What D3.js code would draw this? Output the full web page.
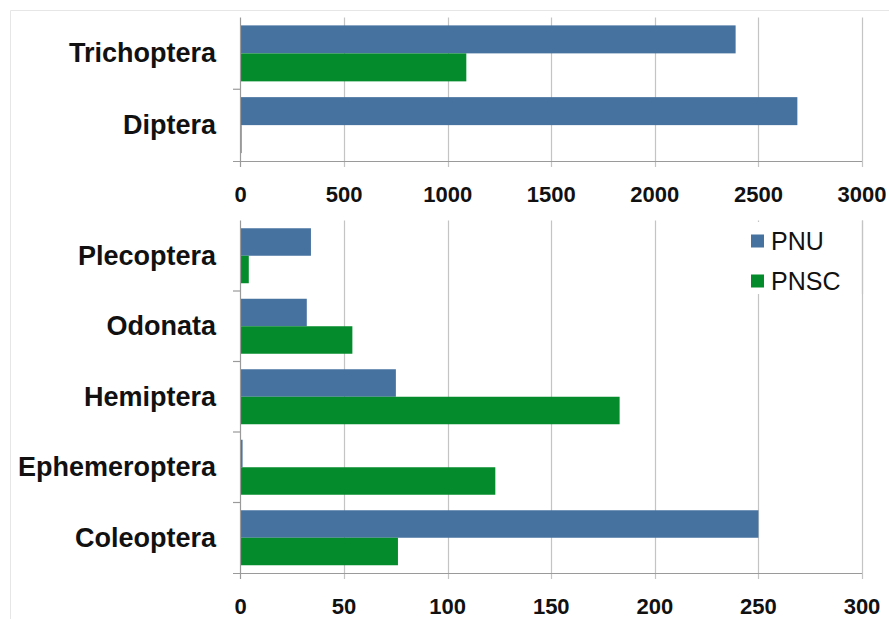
<!DOCTYPE html>
<html><head><meta charset="utf-8">
<script src="https://cdn.jsdelivr.net/npm/d3@7"></script>
<style>body{margin:0;background:#fff}svg{display:block}</style>
</head><body>
<svg id="c" width="889" height="619"></svg>
<script>
const series = ["PNU", "PNSC"];
const colors = ["#46729f", "#048b2b"];
const topCategories = ["Trichoptera", "Diptera"];
const topPNU = [2390, 2688];
const topPNSC = [1090, 5];
const topTicks = [0, 500, 1000, 1500, 2000, 2500, 3000];
const bottomCategories = ["Plecoptera", "Odonata", "Hemiptera", "Ephemeroptera", "Coleoptera"];
const bottomPNU = [34, 32, 75, 1, 250];
const bottomPNSC = [4, 54, 183, 123, 76];
const bottomTicks = [0, 50, 100, 150, 200, 250, 300];

const svg = d3.select("#c");
const labelFont = "'Liberation Sans', Arial, sans-serif";

// faint outer frame
svg.append("path").attr("d", "M10.5,619 L10.5,10.5 L889,10.5")
  .attr("fill", "none").attr("stroke", "#e6e6e6").attr("stroke-width", 1);

function panel(cats, pnu, pnsc, ticks, y0, y1, labelY) {
  const x = d3.scaleLinear().domain([ticks[0], ticks[ticks.length - 1]]).range([240.5, 862]);
  const y = d3.scaleBand().domain(cats).range([y0, y1]).paddingInner(0.22).paddingOuter(0.11);
  const ys = d3.scaleBand().domain(series).range([0, y.bandwidth()]);
  const step = y.step();
  const g = svg.append("g");
  // gridlines
  g.selectAll("line.grid").data(ticks.slice(1)).join("line")
    .attr("x1", d => Math.round(x(d)) + 0.5).attr("x2", d => Math.round(x(d)) + 0.5)
    .attr("y1", y0).attr("y2", y1 + 6)
    .attr("stroke", "#c4c4c4").attr("stroke-width", 1.2);
  // bars
  const rows = cats.map((c, i) => ({c, v: [pnu[i], pnsc[i]]}));
  rows.forEach(r => {
    series.forEach((s, j) => {
      g.append("rect")
        .attr("x", x(0)).attr("y", y(r.c) + ys(s))
        .attr("width", Math.max(0, x(r.v[j]) - x(0)))
        .attr("height", ys.bandwidth())
        .attr("fill", colors[j]);
    });
  });
  // axes
  g.append("line").attr("x1", 240.5).attr("x2", 240.5).attr("y1", y0).attr("y2", y1 + 6)
    .attr("stroke", "#9a9a9a").attr("stroke-width", 1.2);
  g.append("line").attr("x1", 233).attr("x2", 862).attr("y1", y1 + 0.5).attr("y2", y1 + 0.5)
    .attr("stroke", "#9a9a9a").attr("stroke-width", 1.2);
  // category separator ticks
  const seps = d3.range(1, cats.length).map(i => y0 + i * step);
  g.selectAll("line.sep").data(seps).join("line")
    .attr("x1", 233).attr("x2", 240.5).attr("y1", d => d).attr("y2", d => d)
    .attr("stroke", "#9a9a9a").attr("stroke-width", 1.2);
  // tick labels
  g.selectAll("text.tick").data(ticks).join("text")
    .attr("x", d => x(d)).attr("y", labelY)
    .attr("text-anchor", "middle").attr("dominant-baseline", "central")
    .attr("font-family", labelFont)
    .attr("font-weight", "bold").attr("font-size", 22).attr("fill", "#111")
    .text(d => d);
  // category labels
  g.selectAll("text.cat").data(cats).join("text")
    .attr("x", 216).attr("y", d => y(d) + y.bandwidth() / 2)
    .attr("text-anchor", "end").attr("dominant-baseline", "central")
    .attr("font-family", labelFont).attr("font-weight", "bold").attr("font-size", 27)
    .attr("fill", "#111").text(d => d);
}

panel(topCategories, topPNU, topPNSC, topTicks, 17.5, 161, 194.5);
panel(bottomCategories, bottomPNU, bottomPNSC, bottomTicks, 220.5, 573, 606);

// legend
const lg = svg.append("g");
lg.append("rect").attr("x", 744).attr("y", 222).attr("width", 110).attr("height", 72).attr("fill", "#fff");
lg.append("line").attr("x1", 862.5).attr("x2", 862.5).attr("y1", 220.5).attr("y2", 294).attr("stroke", "#c4c4c4").attr("stroke-width", 1.2);
series.forEach((s, i) => {
  const yy = 241 + i * 40;
  lg.append("rect").attr("x", 751).attr("y", yy - 6.5).attr("width", 13).attr("height", 13).attr("fill", colors[i]);
  lg.append("text").attr("x", 771).attr("y", yy).attr("dominant-baseline", "central")
    .attr("font-family", "'Liberation Sans', Arial, sans-serif").attr("font-size", 25).attr("fill", "#111").text(s);
});
</script>
</body></html>
